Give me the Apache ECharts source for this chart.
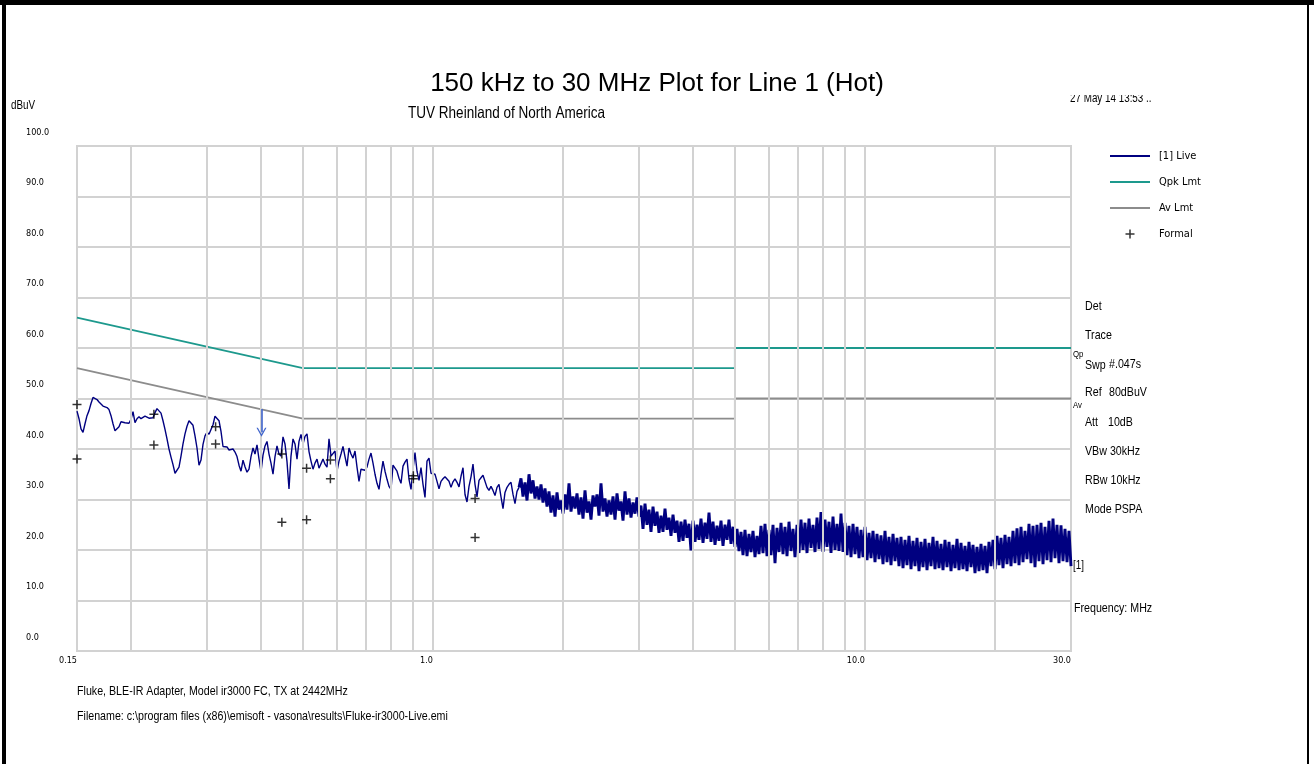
<!DOCTYPE html>
<html>
<head>
<meta charset="utf-8">
<script src="https://cdn.jsdelivr.net/npm/echarts@6/dist/echarts.min.js"></script>
<style>
    html, body { margin: 0; padding: 0; background: #fff; }
    #chart { width: 1314px; height: 764px; }
</style>
</head>
<body>
<div id="chart"></div>
<script>
// live sweep, one reading per step, log spaced from SWEEP_START to SWEEP_STOP (MHz)
const SWEEP_START = 0.15
const SWEEP_STOP = 30
const LIVE_LEVEL = [
    47.5, 46.0, 44.0, 43.3, 45.0, 46.6, 47.6, 49.0, 50.2, 50.3,
    49.8, 49.3, 48.9, 48.5, 48.3, 48.2, 47.8, 46.6, 45.0, 43.6,
    43.9, 44.4, 45.4, 45.6, 45.2, 45.0, 45.1, 45.9, 47.4, 45.2,
    46.0, 46.4, 46.0, 46.2, 46.5, 46.3, 46.1, 46.1, 46.2, 47.2,
    48.0, 47.8, 47.1, 45.6, 43.9, 42.0, 40.0, 38.4, 36.9, 35.2,
    35.0, 36.4, 38.6, 41.0, 43.0, 44.5, 45.6, 45.7, 44.7, 42.6,
    40.2, 36.8, 37.8, 40.9, 42.6, 43.3, 42.9, 43.0,
    44.8, 46.5, 46.3, 45.6, 43.5, 40.5, 40.3, 40.4, 39.8, 39.9,
    40.0, 39.4, 38.5, 36.8, 35.6, 37.8, 36.5, 35.4, 36.0, 38.5,
    40.2, 39.0, 40.8, 38.0, 35.5, 38.8, 40.6, 41.5, 39.0, 37.2,
    35.0, 38.5, 40.6, 39.0, 38.6, 42.4, 41.0, 37.5, 32.1, 38.6,
    42.0, 41.0, 38.0, 41.5, 42.9, 41.0, 42.5, 43.0, 39.5, 37.6,
    36.0, 37.2, 38.0, 36.2, 36.4, 38.0, 37.0, 36.4, 42.0, 38.6,
    38.7, 39.6, 35.6, 37.6, 39.0, 40.5, 38.5, 36.6, 40.2, 39.0,
    38.2, 39.6, 36.4, 33.6, 36.0, 36.2, 35.8, 36.4, 38.0, 39.2,
    37.2, 35.0, 33.2, 32.0, 35.0, 37.6, 35.6, 34.0, 32.6, 32.0,
    36.8, 36.2, 35.6, 34.2, 33.2, 36.6, 37.4, 38.0, 34.0, 32.0,
    36.0, 39.3, 35.6, 33.8, 36.3, 33.0, 30.4, 37.6, 38.2, 35.2,
    35.0, 35.0, 33.6, 32.1, 33.6, 34.1, 34.5, 34.7, 33.6, 32.4,
    33.5, 34.1, 33.4, 32.5, 34.6, 36.3, 31.0, 29.5, 32.6, 34.5,
    37.0, 33.0, 30.5, 33.8, 34.3, 34.8, 35.0, 32.4, 31.8, 32.6,
    31.8, 30.8, 32.4, 33.0, 30.5, 28.2, 31.4, 32.4, 33.0, 33.4,
    31.0, 29.2, 31.6, 32.4,
    34.2, 30.6, 33.4, 29.8, 35.0, 31.2, 33.8, 30.2, 32.6, 30.0,
    33.0, 29.4, 32.2, 28.6, 31.6, 27.4, 30.8, 26.6, 31.4, 28.0,
    29.8, 27.2, 31.0, 28.0, 33.2, 27.6, 30.6, 28.2, 31.2, 27.0,
    30.4, 26.2, 31.8, 27.4, 29.6, 26.0, 30.8, 28.6, 31.0, 26.8,
    33.2, 27.6, 30.2, 26.6, 29.8, 27.0, 30.6, 26.0, 31.2, 27.8,
    29.6, 25.8, 31.6, 27.0, 30.2, 26.4, 29.4, 27.2, 30.4, 26.6,
    28.8, 24.2, 29.2, 25.0, 28.0, 23.6, 28.6, 24.8, 27.6, 23.4,
    26.8, 23.6, 28.2, 24.0, 26.4, 22.8, 27.0, 23.4, 25.8, 21.6,
    25.6, 21.8, 26.0, 22.4, 25.2, 19.9, 25.8, 21.6, 25.0, 22.0,
    26.2, 21.4, 25.4, 22.2, 27.4, 21.6, 25.6, 21.0, 24.8, 21.8,
    25.8, 20.8, 25.0, 22.0, 26.0, 21.2, 24.6, 20.6, 24.2, 19.8,
    23.6, 19.0, 24.0, 18.8, 23.2, 19.6, 23.8, 18.6, 22.8, 19.2,
    24.8, 19.4, 25.2, 18.8, 24.0, 19.0, 25.0, 17.4, 24.4, 19.6,
    25.4, 19.2, 24.6, 18.8, 25.6, 19.8, 24.2, 18.6, 25.0, 19.4,
    26.0, 20.0, 25.4, 19.4, 26.2, 20.4, 25.0, 19.6, 26.4, 20.2,
    27.5, 19.6, 26.0, 20.6, 25.6, 19.4, 26.6, 20.0, 25.2, 19.8,
    27.2, 19.6, 25.4, 19.0, 24.8, 18.6, 25.2, 19.2, 24.6, 18.4,
    24.0, 18.6, 24.6, 18.0, 23.4, 18.4, 23.8, 17.6, 23.2, 18.2,
    22.9, 17.2, 23.8, 17.6, 22.6, 17.0, 23.2, 17.8, 22.4, 16.8,
    22.6, 16.4, 22.0, 17.0, 22.8, 16.2, 21.8, 16.8, 22.4, 15.8,
    21.6, 16.6, 22.2, 16.0, 21.4, 16.8, 22.6, 16.2, 21.8, 16.4,
    21.2, 16.0, 22.0, 16.6, 21.6, 15.8, 21.0, 16.4, 22.2, 16.0,
    21.4, 16.2, 20.8, 15.8, 21.6, 16.6, 21.0, 15.4, 20.6, 15.8,
    21.2, 16.0, 20.8, 15.4, 21.6, 16.8, 22.0, 16.2, 22.8, 17.0,
    22.4, 16.4, 23.0, 17.2, 22.6, 16.8, 23.8, 17.4, 24.3, 17.0,
    24.6, 17.6, 23.8, 18.2, 25.2, 17.4, 24.8, 16.6, 25.0, 17.8,
    25.4, 17.2, 24.6, 18.0, 25.8, 17.6, 26.2, 18.4, 25.0, 17.4,
    24.9, 17.8, 24.2, 17.6, 23.8, 16.8
]
// sweep step where the trace turns into the dense noise band
const BAND_START = 221

// limit lines
const QPK_FREQ = [0.15, 0.5, 5, 5, 30]
const QPK_LEVEL = [66, 56, 56, 60, 60]
const AV_FREQ = [0.15, 0.5, 5, 5, 30]
const AV_LEVEL = [56, 46, 46, 50, 50]

// formal (final) measurements
const FORMAL_FREQ = [0.150, 0.150, 0.226, 0.226, 0.314, 0.314, 0.447, 0.447, 0.510, 0.510, 0.579, 0.579, 0.901, 0.901, 1.252, 1.252]
const FORMAL_LEVEL = [48.8, 38.0, 46.9, 40.8, 44.4, 41.0, 39.0, 25.5, 36.2, 26.0, 37.8, 34.1, 34.7, 34.1, 30.2, 22.5]

// marker arrow
const MARKER_FREQ = 0.401
const MARKER_FROM = 47.9
const MARKER_TO = 43.3

// vertical grid of the log axis
const GRID_FREQ = [0.2, 0.3, 0.4, 0.5, 0.6, 0.7, 0.8, 0.9, 1, 2, 3, 4, 5, 6, 7, 8, 9, 10, 20]

const COND = "'DejaVu Sans Condensed', sans-serif"
const GRID_COLOR = '#d2d2d2'
const LIVE_COLOR = '#000080'
const LINE_ICON = 'path://M0,0h40v2h-40z'

const liveData = LIVE_LEVEL.map((v, i) => [
    SWEEP_START * Math.pow(SWEEP_STOP / SWEEP_START, i / (LIVE_LEVEL.length - 1)), v
])
const zip = (xs, ys) => xs.map((x, i) => [x, ys[i]])

// narrow text: Liberation Sans squeezed like Arial Narrow
const txt = (x, y, s, size) => ({
    type: 'text', x: x, y: y, scaleX: 0.82, silent: true,
    style: { text: s, fill: '#000', font: size + 'px "Liberation Sans", Arial, sans-serif', align: 'left', verticalAlign: 'middle' }
})

const chart = echarts.init(document.getElementById('chart'))

const option = {
    animation: false,
    backgroundColor: '#fff',
    title: {
        text: '150 kHz to 30 MHz Plot for Line 1 (Hot)',
        left: 'center',
        top: 71,
        padding: 0,
        textStyle: { fontFamily: 'Liberation Sans', fontSize: 26, fontWeight: 'normal', color: '#000' }
    },
    legend: {
        orient: 'vertical',
        left: 1110,
        top: 149,
        padding: 0,
        itemWidth: 40,
        itemHeight: 9,
        itemGap: 12,
        selectedMode: false,
        data: [
            { name: '[1] Live', icon: LINE_ICON },
            { name: 'Qpk Lmt', icon: LINE_ICON },
            { name: 'Av Lmt', icon: LINE_ICON },
            { name: 'Formal' }
        ],
        textStyle: { fontFamily: COND, fontSize: 11, color: '#000', lineHeight: 14, padding: [0, 0, 0, 4] }
    },
    grid: {
        left: 77, right: 243, top: 146, bottom: 113,
        show: true, borderColor: GRID_COLOR, borderWidth: 2, backgroundColor: '#fff'
    },
    xAxis: {
        type: 'log',
        logBase: 10,
        min: SWEEP_START,
        max: SWEEP_STOP,
        axisLine: { show: false },
        axisTick: { show: false },
        splitLine: { show: false },
        axisLabel: {
            align: 'right',
            margin: 5,
            fontFamily: COND,
            fontSize: 9,
            color: '#000',
            showMinLabel: true,
            showMaxLabel: true,
            formatter: v => (v < 1 ? v.toFixed(2) : v.toFixed(1))
        }
    },
    yAxis: {
        type: 'value',
        min: 0,
        max: 100,
        interval: 10,
        axisLine: { show: false },
        axisTick: { show: false },
        splitLine: { lineStyle: { color: GRID_COLOR, width: 2 } },
        axisLabel: {
            align: 'left',
            verticalAlign: 'bottom',
            margin: 51,
            padding: [0, 0, 9, 0],
            fontFamily: COND,
            fontSize: 9,
            color: '#000',
            formatter: v => v.toFixed(1)
        }
    },
    series: [{
        name: 'grid',
        type: 'line',
        data: [],
        silent: true,
        z: 1,
        markLine: {
            silent: true,
            symbol: 'none',
            label: { show: false },
            lineStyle: { color: GRID_COLOR, width: 2, type: 'solid' },
            data: GRID_FREQ.map(f => ({ xAxis: f }))
        }
    }, {
        name: 'Qpk Lmt',
        type: 'line',
        data: zip(QPK_FREQ, QPK_LEVEL),
        symbol: 'none',
        z: 3,
        itemStyle: { color: '#1d998d' },
        lineStyle: { color: '#1d998d', width: 1.8 }
    }, {
        name: 'Av Lmt',
        type: 'line',
        data: zip(AV_FREQ, AV_LEVEL),
        symbol: 'none',
        z: 3,
        itemStyle: { color: '#8c8c8c' },
        lineStyle: { color: '#8c8c8c', width: 1.8 }
    }, {
        // smooth low frequency part of the live trace
        name: '[1] Live',
        type: 'line',
        data: liveData.slice(0, BAND_START + 1),
        symbol: 'none',
        z: 4,
        itemStyle: { color: LIVE_COLOR },
        lineStyle: { color: LIVE_COLOR, width: 1.4 },
        markLine: {
            silent: true,
            symbolSize: [10, 9],
            label: { show: false },
            lineStyle: { color: '#3f64cc', width: 1.6, type: 'solid' },
            data: [[
                { coord: [MARKER_FREQ, MARKER_FROM], symbol: 'none' },
                { coord: [MARKER_FREQ, MARKER_TO], symbol: 'path://M5,0 L10,8 L8.6,8 L5,2.3 L1.4,8 L0,8 Z' }
            ]]
        }
    }, {
        // dense noise band of the same trace
        name: '[1] Live',
        type: 'line',
        data: liveData.slice(BAND_START),
        symbol: 'none',
        z: 4,
        itemStyle: { color: LIVE_COLOR },
        lineStyle: { color: LIVE_COLOR, width: 2.9 }
    }, {
        name: 'Formal',
        type: 'scatter',
        data: zip(FORMAL_FREQ, FORMAL_LEVEL),
        symbol: 'path://M3.75,0h1.5v3.75h3.75v1.5h-3.75v3.75h-1.5v-3.75h-3.75v-1.5h3.75z',
        symbolSize: 9,
        symbolKeepAspect: true,
        z: 5,
        itemStyle: { color: '#000' }
    }],
    graphic: [
        { type: 'rect', shape: { x: 0, y: 0, width: 1314, height: 5 }, style: { fill: '#000' }, silent: true },
        { type: 'rect', shape: { x: 2, y: 0, width: 4, height: 764 }, style: { fill: '#000' }, silent: true },
        { type: 'rect', shape: { x: 1307, y: 0, width: 2, height: 764 }, style: { fill: '#000' }, silent: true },
        txt(408, 113, 'TUV Rheinland of North America', 16.5),
        txt(11, 106, 'dBuV', 12),
        txt(1070, 99, '27 May 14 13:53 ..', 12),
        { type: 'rect', shape: { x: 1065, y: 86, width: 100, height: 9 }, style: { fill: '#fff' }, silent: true, z: 100 },
        txt(1085, 306, 'Det', 13),
        txt(1085, 335, 'Trace', 13),
        txt(1073, 354, 'Qp', 9.5),
        txt(1085, 365, 'Swp', 13),
        txt(1109, 364, '#.047s', 13),
        txt(1085, 392, 'Ref', 13),
        txt(1109, 392, '80dBuV', 13),
        txt(1073, 405, 'Av', 9.5),
        txt(1085, 422, 'Att', 13),
        txt(1108, 422, '10dB', 13),
        txt(1085, 451, 'VBw 30kHz', 13),
        txt(1085, 480, 'RBw 10kHz', 13),
        txt(1085, 509, 'Mode PSPA', 13),
        txt(1073, 566, '[1]', 12),
        txt(1074, 608, 'Frequency: MHz', 13),
        txt(77, 691, 'Fluke, BLE-IR Adapter, Model ir3000 FC, TX at 2442MHz', 13),
        txt(77, 716, 'Filename: c:\\program files (x86)\\emisoft - vasona\\results\\Fluke-ir3000-Live.emi', 13)
    ]
}

chart.setOption(option)
</script>
</body>
</html>
